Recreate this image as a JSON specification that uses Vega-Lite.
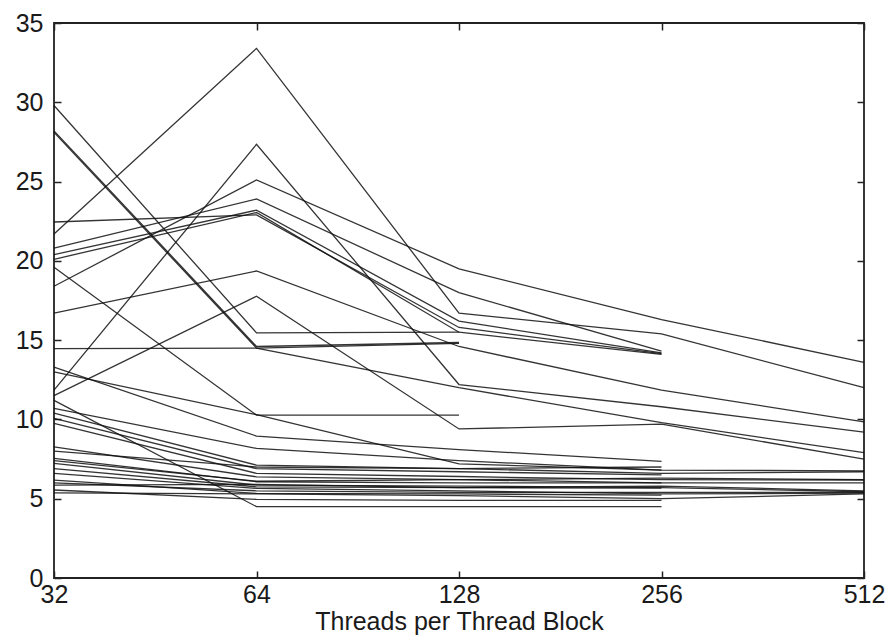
{
  "$schema": "https://vega.github.io/schema/vega-lite/v6.json",
  "width": 810,
  "height": 555,
  "autosize": "none",
  "padding": {"left": 54, "top": 23, "right": 30, "bottom": 58},
  "background": "white",
  "config": {
    "view": {"stroke": "#222", "strokeWidth": 1.8},
    "font": "Liberation Sans",
    "axis": {"grid": false, "domain": false, "tickColor": "#222", "tickWidth": 1.5, "labelColor": "#1a1a1a", "titleColor": "#1a1a1a", "labelFont": "Liberation Sans", "titleFont": "Liberation Sans", "labelFontSize": 25, "titleFontSize": 25, "titleFontWeight": "normal"}
  },
  "data": {"values": [
    {"s":"U1","t":32,"v":21.7},{"s":"U1","t":64,"v":33.4},{"s":"U1","t":128,"v":16.7},{"s":"U1","t":256,"v":15.4},{"s":"U1","t":512,"v":12.0},
    {"s":"U2","t":32,"v":11.85},{"s":"U2","t":64,"v":27.35},{"s":"U2","t":128,"v":12.2},{"s":"U2","t":256,"v":10.8},{"s":"U2","t":512,"v":9.2},
    {"s":"U3","t":32,"v":18.4},{"s":"U3","t":64,"v":25.1},{"s":"U3","t":128,"v":19.5},{"s":"U3","t":256,"v":16.3},{"s":"U3","t":512,"v":13.6},
    {"s":"U4","t":32,"v":20.8},{"s":"U4","t":64,"v":23.9},{"s":"U4","t":128,"v":18.0},{"s":"U4","t":256,"v":14.3},
    {"s":"U5","t":32,"v":20.4},{"s":"U5","t":64,"v":23.2},{"s":"U5","t":128,"v":16.2},{"s":"U5","t":256,"v":14.2},
    {"s":"U6","t":32,"v":22.45},{"s":"U6","t":64,"v":22.9},{"s":"U6","t":128,"v":15.8},{"s":"U6","t":256,"v":14.15},
    {"s":"U7","t":32,"v":20.1},{"s":"U7","t":64,"v":23.05},{"s":"U7","t":128,"v":15.5},{"s":"U7","t":256,"v":14.1},
    {"s":"U8","t":32,"v":16.7},{"s":"U8","t":64,"v":19.36},{"s":"U8","t":128,"v":14.6},{"s":"U8","t":256,"v":11.85},{"s":"U8","t":512,"v":9.85},
    {"s":"U9","t":32,"v":11.5},{"s":"U9","t":64,"v":17.77},{"s":"U9","t":128,"v":9.4},{"s":"U9","t":256,"v":9.7},{"s":"U9","t":512,"v":7.5},
    {"s":"U10","t":32,"v":29.8},{"s":"U10","t":64,"v":15.46},{"s":"U10","t":128,"v":15.5},
    {"s":"U11","t":32,"v":28.2},{"s":"U11","t":64,"v":14.6},{"s":"U11","t":128,"v":14.85},
    {"s":"U12","t":32,"v":28.1},{"s":"U12","t":64,"v":14.5},{"s":"U12","t":128,"v":12.0},{"s":"U12","t":256,"v":9.8},{"s":"U12","t":512,"v":7.9},
    {"s":"U13","t":32,"v":14.47},{"s":"U13","t":64,"v":14.5},{"s":"U13","t":128,"v":14.8},
    {"s":"L1","t":32,"v":19.6},{"s":"L1","t":64,"v":10.27},{"s":"L1","t":128,"v":10.27},
    {"s":"L2","t":32,"v":13.3},{"s":"L2","t":64,"v":8.95},{"s":"L2","t":128,"v":8.1},{"s":"L2","t":256,"v":7.35},
    {"s":"L3","t":32,"v":13.0},{"s":"L3","t":64,"v":10.3},{"s":"L3","t":128,"v":7.2},{"s":"L3","t":256,"v":6.8},{"s":"L3","t":512,"v":6.76},
    {"s":"L4","t":32,"v":11.2},{"s":"L4","t":64,"v":4.5},{"s":"L4","t":128,"v":4.5},{"s":"L4","t":256,"v":4.5},
    {"s":"L5","t":32,"v":10.7},{"s":"L5","t":64,"v":8.17},{"s":"L5","t":128,"v":7.4},{"s":"L5","t":256,"v":6.8},
    {"s":"L6","t":32,"v":10.4},{"s":"L6","t":64,"v":7.12},{"s":"L6","t":128,"v":6.9},{"s":"L6","t":256,"v":6.6},{"s":"L6","t":512,"v":6.7},
    {"s":"L7","t":32,"v":10.06},{"s":"L7","t":64,"v":6.9},{"s":"L7","t":128,"v":6.7},{"s":"L7","t":256,"v":6.5},
    {"s":"L8","t":32,"v":9.75},{"s":"L8","t":64,"v":6.6},{"s":"L8","t":128,"v":6.4},{"s":"L8","t":256,"v":6.2},{"s":"L8","t":512,"v":6.18},
    {"s":"L9","t":32,"v":8.27},{"s":"L9","t":64,"v":6.38},{"s":"L9","t":128,"v":6.2},{"s":"L9","t":256,"v":6.0},{"s":"L9","t":512,"v":6.0},
    {"s":"L10","t":32,"v":7.54},{"s":"L10","t":64,"v":6.07},{"s":"L10","t":128,"v":6.0},{"s":"L10","t":256,"v":6.0},
    {"s":"L11","t":32,"v":7.23},{"s":"L11","t":64,"v":5.86},{"s":"L11","t":128,"v":5.8},{"s":"L11","t":256,"v":5.7},{"s":"L11","t":512,"v":5.44},
    {"s":"L12","t":32,"v":6.9},{"s":"L12","t":64,"v":5.75},{"s":"L12","t":128,"v":5.7},{"s":"L12","t":256,"v":5.67},
    {"s":"L13","t":32,"v":6.6},{"s":"L13","t":64,"v":5.65},{"s":"L13","t":128,"v":5.5},{"s":"L13","t":256,"v":5.3},{"s":"L13","t":512,"v":5.35},
    {"s":"L14","t":32,"v":6.17},{"s":"L14","t":64,"v":5.34},{"s":"L14","t":128,"v":5.3},{"s":"L14","t":256,"v":5.23},
    {"s":"L15","t":32,"v":5.86},{"s":"L15","t":64,"v":5.9},{"s":"L15","t":128,"v":5.7},{"s":"L15","t":256,"v":5.8},{"s":"L15","t":512,"v":5.5},
    {"s":"L16","t":32,"v":5.55},{"s":"L16","t":64,"v":4.96},{"s":"L16","t":128,"v":4.9},{"s":"L16","t":256,"v":4.9},
    {"s":"L17","t":32,"v":5.37},{"s":"L17","t":64,"v":5.3},{"s":"L17","t":128,"v":5.2},{"s":"L17","t":256,"v":5.0},{"s":"L17","t":512,"v":5.3},
    {"s":"L18","t":32,"v":7.4},{"s":"L18","t":64,"v":6.1},{"s":"L18","t":128,"v":6.2},{"s":"L18","t":256,"v":6.3},{"s":"L18","t":512,"v":6.2},
    {"s":"L19","t":32,"v":6.0},{"s":"L19","t":64,"v":5.5},{"s":"L19","t":128,"v":5.4},{"s":"L19","t":256,"v":5.4},{"s":"L19","t":512,"v":5.4},
    {"s":"L20","t":32,"v":8.0},{"s":"L20","t":64,"v":7.0},{"s":"L20","t":128,"v":6.9},{"s":"L20","t":256,"v":7.0}
  ]},
  "layer": [
    {
      "mark": {"type": "line", "stroke": "#111", "strokeWidth": 1.3, "opacity": 0.85},
      "encoding": {
        "x": {"field": "t", "type": "ordinal", "scale": {"type": "point", "padding": 0},
              "axis": {"orient": "bottom", "title": "Threads per Thread Block", "labelAngle": 0, "tickSize": -7, "labelPadding": 11, "titlePadding": 2}},
        "y": {"field": "v", "type": "quantitative", "scale": {"domain": [0, 35], "nice": false},
              "axis": {"orient": "left", "title": null, "values": [0,5,10,15,20,25,30,35], "tickSize": -7, "labelPadding": 18}},
        "detail": {"field": "s"}
      }
    },
    {
      "mark": {"type": "line", "opacity": 0},
      "encoding": {
        "x": {"field": "t", "type": "ordinal", "scale": {"type": "point", "padding": 0},
              "axis": {"orient": "top", "title": null, "labels": false, "tickSize": -7}},
        "y": {"field": "v", "type": "quantitative", "scale": {"domain": [0, 35], "nice": false},
              "axis": {"orient": "right", "title": null, "labels": false, "values": [0,5,10,15,20,25,30,35], "tickSize": -7}},
        "detail": {"field": "s"}
      }
    }
  ],
  "resolve": {"axis": {"x": "independent", "y": "independent"}}
}
